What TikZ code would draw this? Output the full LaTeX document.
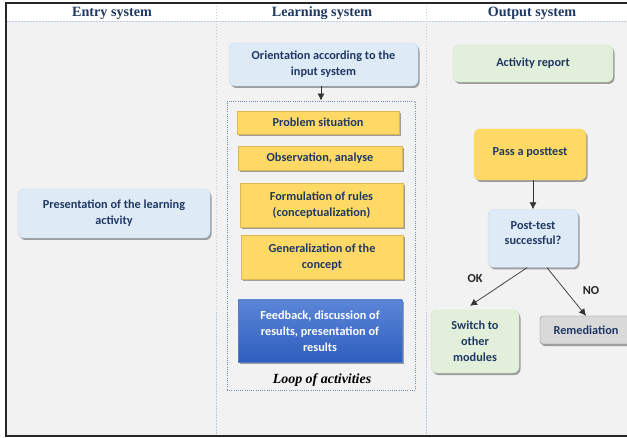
\documentclass[tikz,border=0pt]{standalone}
\usepackage{fontspec}
\setmainfont{Liberation Serif}
\newfontfamily\boxfont{Carlito}
\usetikzlibrary{arrows.meta,positioning,calc,shadows}
\definecolor{navy}{HTML}{1F3864}
\definecolor{pageGray}{HTML}{F2F2F2}
\definecolor{lineBlue}{HTML}{B8CCE4}
\definecolor{loopBlue}{HTML}{6A8CB5}
\definecolor{lBlue}{HTML}{DEEBF7}
\definecolor{lBlueEdge}{HTML}{C5D9EE}
\definecolor{mYellow}{HTML}{FFD966}
\definecolor{lGreen}{HTML}{E2EFDA}
\definecolor{lGreenEdge}{HTML}{CFE2C3}
\definecolor{mGray}{HTML}{D9D9D9}
\definecolor{fbTop}{HTML}{5B86D8}
\definecolor{fbBot}{HTML}{2E5DBE}

\begin{document}
\begin{tikzpicture}[x=1bp, y=-1bp,
  font=\boxfont\bfseries\fontsize{12.3}{16}\selectfont,
  sz/.style 2 args={minimum width=#1bp, minimum height=#2bp},
  shd/.style={drop shadow={shadow xshift=1.5bp, shadow yshift=-2bp, fill=black, opacity=0.35}},
  bx/.style={rounded corners=6bp, align=center, text=navy, inner sep=2bp, shd},
  bluebx/.style={bx, fill=lBlue, draw=lBlueEdge},
  greenbx/.style={bx, fill=lGreen, draw=lGreenEdge},
  act/.style={align=center, text=navy, inner sep=2bp, fill=mYellow, draw=mYellow!85!black, shd},
  hdr/.style={text=navy, font=\rmfamily\bfseries\fontsize{14.2}{16}\selectfont},
  sep/.style={draw=lineBlue, line width=1bp, dash pattern=on 1.5bp off 1.5bp},
  arr/.style={-{Latex[length=7bp,width=7bp]}, line width=0.7bp, draw=black!80}]
\clip (0,0) rectangle (627,438);
\fill[white] (0,0) rectangle (627,438);
\fill[pageGray] (6,21.5) rectangle (640,436);
\draw[sep] (6,21.5) -- (640,21.5);
\draw[sep] (216.5,3) -- (216.5,436); \draw[sep] (426.5,3) -- (426.5,436);
\draw[black!85, line width=2bp] (640,3) -- (6,3) -- (6,436) -- (640,436);
\node[hdr] (hEntry) at (112,13.5) {Entry system};
\node[hdr] (hLearn) at (322,13.5) {Learning system};
\node[hdr] (hOut) at (532,13.5) {Output system};

\node[bluebx, sz={192}{49}] (entry) at (114,213.5) {Presentation of the learning\\activity};

\node[bluebx, sz={189}{43}] (orient) at (323.5,64.5) {Orientation according to the\\input system};
\node[draw=loopBlue, line width=0.9bp, dash pattern=on 1bp off 1.2bp, sz={188}{289}] (loop) at (321,245.5) {};
\draw[arr] (orient.south -| loop.north) -- (loop.north);
\node[act, sz={162}{23}] (prob) at (318,122.5) {Problem situation};
\node[act, sz={164}{24}] (obs) at (320,158) {Observation, analyse};
\node[act, sz={163}{44}] (form) at (321.5,205) {Formulation of rules\\(conceptualization)};
\node[act, sz={162}{44}] (gen) at (322,257) {Generalization of the\\concept};
\node[act, sz={164}{62}, draw=fbBot!80!white, top color=fbTop, bottom color=fbBot, text=white] (feed) at (320,331)
  {Feedback, discussion of\\results, presentation of\\results};
\node[font=\rmfamily\bfseries\itshape\fontsize{14}{16}\selectfont] (loopLbl) at (322,380.5) {Loop of activities};

\node[greenbx, sz={160}{37}] (report) at (533,63.5) {Activity report};
\node[bx, fill=mYellow, draw=mYellow, sz={112}{51}] (pass) at (530,154.5) {\raisebox{5bp}{Pass a posttest}};
\node[bluebx, sz={90}{58}] (post) at (533,238.5) {Post-test\\successful?\\[-5bp]};
\node[greenbx, sz={88}{63}] (switch) at (475,341.5) {Switch to\\other\\modules};
\node[bx, fill=mGray, draw=black!50, rounded corners=3bp, sz={92}{28}] (remed) at (586,330) {Remediation};
\draw[arr] (post.north |- pass.south) -- (post.north);
\draw[arr] ($(post.south)+(-6,0)$) -- ($(switch.north)+(-5,-4)$);
\draw[arr] ($(post.south)+(14,0)$) -- (remed.north);
\node[text=black!85] (ok) at (475,279) {OK};
\node[text=black!85] (no) at (591,291) {NO};
\end{tikzpicture}
\end{document}
